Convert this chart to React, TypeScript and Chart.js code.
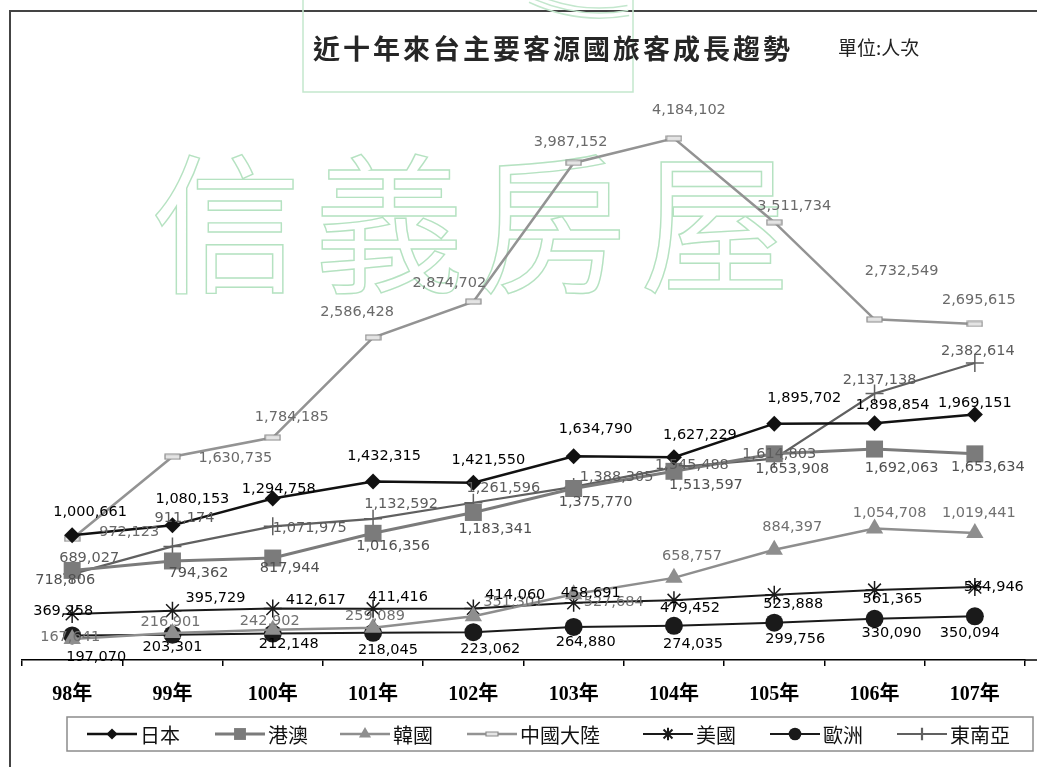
import React, { useEffect, useRef } from 'react';
import { Chart, registerables } from 'chart.js';
import { drawPoint } from 'chart.js/helpers';

Chart.register(...registerables);

// ---------- data ----------
const YEARS = ['98年', '99年', '100年', '101年', '102年', '103年', '104年', '105年', '106年', '107年'];
const JAPAN = [1000661, 1080153, 1294758, 1432315, 1421550, 1634790, 1627229, 1895702, 1898854, 1969151];
const HK_MACAU = [718806, 794362, 817944, 1016356, 1183341, 1375770, 1513597, 1653908, 1692063, 1653634];
const KOREA = [167641, 216901, 242902, 259089, 351301, 527684, 658757, 884397, 1054708, 1019441];
const CHINA = [972123, 1630735, 1784185, 2586428, 2874702, 3987152, 4184102, 3511734, 2732549, 2695615];
const USA = [369258, 395729, 412617, 411416, 414060, 458691, 479452, 523888, 561365, 584946];
const EUROPE = [197070, 203301, 212148, 218045, 223062, 264880, 274035, 299756, 330090, 350094];
const SE_ASIA = [689027, 911174, 1071975, 1132592, 1261596, 1388305, 1545488, 1614803, 2137138, 2382614];
const SERIES_NAMES = ['日本', '港澳', '韓國', '中國大陸', '美國', '歐洲', '東南亞'];

const TITLE = '近十年來台主要客源國旅客成長趨勢';
const UNIT = '單位:人次';
const WATERMARK = ['信', '義', '房', '屋'];

// ---------- label placement (offset of label centre from its point) ----------
const LABEL_OFFSETS: number[][][] = [
  [[18, -23], [20, -26], [6, -9], [11, -25], [15, -23], [22, -27], [26, -22], [30, -25], [18, -18], [0, -11]],
  [[-7, 10], [26, 12], [17, 10], [20, 13], [22, 17], [22, 14], [32, 14], [18, 15], [27, 19], [13, 13]],
  [[-2, -2], [-2, -11], [-3, -8], [2, -11], [40, -14], [40, 8], [18, -22], [18, -23], [15, -15], [4, -20]],
  [[57, -7], [63, 2], [19, -20], [-16, -25], [-24, -18], [-3, -21], [15, -28], [20, -16], [27, -48], [4, -24]],
  [[-9, -3], [43, -12], [43, -8], [25, -11], [42, -13], [17, -10], [16, 8], [19, 10], [18, 9], [19, 0]],
  [[24, 22], [0, 13], [16, 11], [15, 17], [17, 17], [12, 15], [19, 18], [21, 17], [17, 14], [-5, 17]],
  [[17, -16], [12, -28], [37, 2], [28, -15], [30, -14], [43, -10], [18, -2], [5, -4], [5, -13], [3, -12]],
];
const LABEL_COLORS = ['#000', '#505050', '#707070', '#6a6a6a', '#000', '#000', '#5c5c5c'];
const LEGEND_X = [87, 215, 340, 467, 643, 770, 897];

function makeChinaMarker(scale = 1) {
  const c = document.createElement('canvas');
  c.width = Math.round(17 * scale);
  c.height = Math.round(7 * scale);
  const g = c.getContext('2d')!;
  g.fillStyle = '#e4e4e4';
  g.strokeStyle = '#8a8a8a';
  g.lineWidth = 1.2;
  g.beginPath();
  g.rect(1, 1, c.width - 2, c.height - 2);
  g.fill();
  g.stroke();
  return c;
}

export default function App() {
  const ref = useRef<HTMLCanvasElement | null>(null);

  useEffect(() => {
    if (!ref.current) return;
    const chinaMarker = makeChinaMarker();
    const chinaLegendMarker = makeChinaMarker(0.8);

    const SERIES = [JAPAN, HK_MACAU, KOREA, CHINA, USA, EUROPE, SE_ASIA];
    const styles = [
      { color: '#111111', width: 2.5, point: 'rectRot' as any, radius: 8, pbw: 0 },
      { color: '#7b7b7b', width: 3, point: 'rect' as any, radius: 12, pbw: 0 },
      { color: '#8e8e8e', width: 2.5, point: 'triangle' as any, radius: 10, pbw: 0 },
      { color: '#939393', width: 2.5, point: chinaMarker as any, radius: 6, pbw: 0 },
      { color: '#1a1a1a', width: 2, point: 'star' as any, radius: 9, pbw: 1.5 },
      { color: '#1a1a1a', width: 2, point: 'circle' as any, radius: 9, pbw: 0 },
      { color: '#606060', width: 2.2, point: 'cross' as any, radius: 9, pbw: 1.5 },
    ];

    const datasets = SERIES.map((d, i) => ({
      label: SERIES_NAMES[i],
      data: d,
      borderColor: styles[i].color,
      backgroundColor: styles[i].color,
      borderWidth: styles[i].width,
      pointStyle: styles[i].point,
      pointRadius: styles[i].radius,
      pointBackgroundColor: styles[i].color,
      pointBorderColor: styles[i].color,
      pointBorderWidth: styles[i].pbw,
      tension: 0,
    }));

    const decor = {
      id: 'decor',
      beforeDraw(chart: any) {
        const ctx = chart.ctx;
        ctx.save();
        ctx.fillStyle = '#fff';
        ctx.fillRect(0, 0, chart.width, chart.height);
        // frame
        ctx.strokeStyle = '#444';
        ctx.lineWidth = 2;
        ctx.beginPath();
        ctx.moveTo(10, chart.height);
        ctx.lineTo(10, 11);
        ctx.lineTo(chart.width, 11);
        ctx.stroke();
        ctx.restore();
      },
      beforeDatasetsDraw(chart: any) {
        const ctx = chart.ctx;
        ctx.save();
        // logo outline box
        ctx.strokeStyle = '#c3e7cd';
        ctx.lineWidth = 1.5;
        ctx.strokeRect(303, -5, 330, 97);
        for (let k = 0; k < 3; k++) {
          ctx.beginPath();
          ctx.arc(600, -150, 158 + k * 5, (80 * Math.PI) / 180, (115 * Math.PI) / 180);
          ctx.stroke();
        }
        // watermark
        ctx.font = '400 150px "Noto Sans CJK TC"';
        ctx.textAlign = 'center';
        ctx.textBaseline = 'middle';
        ctx.strokeStyle = '#b5e2c1';
        ctx.lineWidth = 1.4;
        WATERMARK.forEach((ch, i) => {
          ctx.strokeText(ch, 226 + i * 163, 224);
        });
        ctx.restore();
      },
      afterDatasetsDraw(chart: any) {
        const ctx = chart.ctx;
        ctx.save();
        ctx.font = '14.5px "DejaVu Sans"';
        ctx.textAlign = 'center';
        ctx.textBaseline = 'middle';
        chart.data.datasets.forEach((ds: any, i: number) => {
          const meta = chart.getDatasetMeta(i);
          ctx.fillStyle = LABEL_COLORS[i];
          meta.data.forEach((pt: any, j: number) => {
            const off = LABEL_OFFSETS[i][j];
            const v = ds.data[j] as number;
            ctx.fillText(v.toLocaleString('en-US'), pt.x + off[0], pt.y + off[1]);
          });
        });
        ctx.restore();
      },
      afterDraw(chart: any) {
        const ctx = chart.ctx;
        const area = chart.chartArea;
        ctx.save();
        // extend axis line to the right edge
        ctx.strokeStyle = '#000';
        ctx.lineWidth = 1.5;
        ctx.beginPath();
        ctx.moveTo(area.right, area.bottom);
        ctx.lineTo(chart.width, area.bottom);
        ctx.stroke();
        // title
        ctx.fillStyle = '#262626';
        ctx.textBaseline = 'middle';
        ctx.textAlign = 'left';
        ctx.font = 'bold 27px "Noto Sans CJK TC"';
        (ctx as any).letterSpacing = '3px';
        ctx.fillText(TITLE, 313, 49);
        (ctx as any).letterSpacing = '0px';
        ctx.font = '19px "Noto Sans CJK TC"';
        ctx.fillStyle = '#222';
        ctx.fillText(UNIT, 838, 48);
        // legend box
        ctx.strokeStyle = '#8c8c8c';
        ctx.lineWidth = 1.5;
        ctx.strokeRect(67, 717, 966, 34);
        const ly = 734;
        chart.data.datasets.forEach((ds: any, i: number) => {
          const x0 = LEGEND_X[i];
          ctx.strokeStyle = ds.borderColor;
          ctx.lineWidth = ds.borderWidth;
          ctx.beginPath();
          ctx.moveTo(x0, ly);
          ctx.lineTo(x0 + 50, ly);
          ctx.stroke();
          ctx.fillStyle = ds.pointBackgroundColor;
          ctx.strokeStyle = ds.pointBorderColor;
          const ps = i === 3 ? chinaLegendMarker : ds.pointStyle;
          drawPoint(ctx, { pointStyle: ps, rotation: 0, radius: ds.pointRadius * 0.7, borderWidth: ds.pointBorderWidth } as any, x0 + 25, ly);
          ctx.fillStyle = '#111';
          ctx.font = '20px "Noto Sans CJK TC"';
          ctx.textAlign = 'left';
          ctx.fillText(ds.label, x0 + 53, ly + 1);
        });
        ctx.restore();
      },
    };

    const chart = new Chart(ref.current, {
      type: 'line',
      data: { labels: YEARS, datasets: datasets as any },
      options: {
        responsive: false,
        animation: false,
        devicePixelRatio: 1,
        layout: { padding: { left: 22, right: 11, top: 99, bottom: 43 } },
        plugins: {
          legend: { display: false },
          title: { display: false },
          tooltip: { enabled: false },
        },
        scales: {
          x: {
            offset: true,
            grid: { display: true, drawOnChartArea: false, drawTicks: true, tickLength: 6, color: '#000', lineWidth: 1.5, offset: true },
            border: { display: true, color: '#000', width: 1.5 },
            ticks: {
              color: '#000',
              padding: 17,
              font: { family: '"Liberation Serif", "Noto Sans CJK TC"', size: 20, weight: 'bold' },
            },
          },
          y: { display: false, min: 0, max: 4500000 },
        },
      },
      plugins: [decor],
    });
    return () => chart.destroy();
  }, []);

  return (
    <div style={{ position: 'fixed', left: 0, top: 0, width: 1037, height: 767, overflow: 'hidden', background: '#fff' }}>
      <canvas ref={ref} width={1037} height={767} style={{ position: 'absolute', left: 0, top: 0, width: 1037, height: 767 }} />
    </div>
  );
}
